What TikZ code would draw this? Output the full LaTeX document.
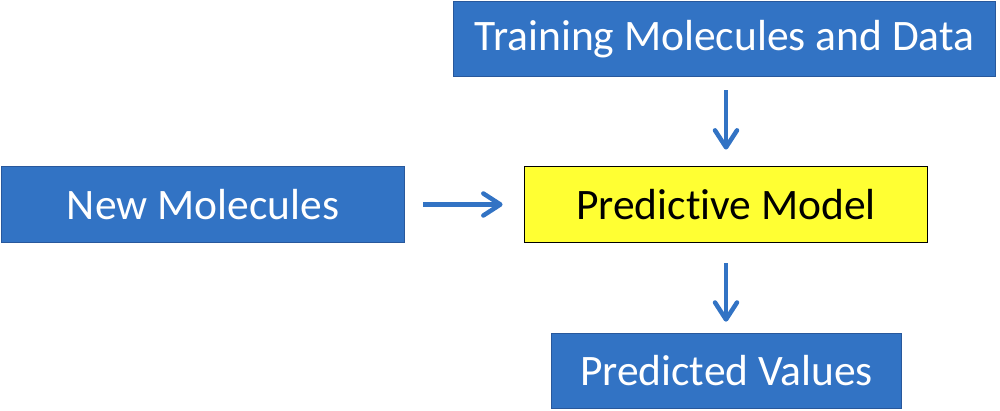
\documentclass[tikz,border=0pt]{standalone}
\usepackage{fontspec}
\setmainfont{Carlito}[Ligatures={NoCommon}]
\usetikzlibrary{arrows.meta}
\definecolor{boxblue}{RGB}{50,115,196}
\definecolor{boxedge}{RGB}{40,88,156}
\definecolor{modelyellow}{RGB}{255,255,51}
\tikzset{
  bluebox/.style={draw=boxedge,fill=boxblue,line width=1.5pt,text=white,inner sep=0pt,font=\fontsize{43.5}{48}\selectfont},
  modelbox/.style={draw=black,fill=modelyellow,line width=1.8pt,text=black,inner sep=0pt,font=\fontsize{43.5}{48}\selectfont},
  flow/.style={draw=boxblue,line width=4.5pt,-{Straight Barb[length=17pt,width=22pt,round]}}
}
\begin{document}
\begin{tikzpicture}[x=1pt,y=1pt]
	\useasboundingbox (0,0) rectangle (1000,411);
	\node[bluebox,minimum width=542,minimum height=75] (train) at (724.5,372) {Training Molecules and Data};
	\node[bluebox,minimum width=403,minimum height=76] (new) at (203,206.5) {New Molecules};
	\node[modelbox,minimum width=403,minimum height=76] (model) at (726,206.5) {Predictive Model};
	\node[bluebox,minimum width=350,minimum height=75] (pred) at (726.5,40) {Predicted Values};
	\draw[flow,shorten <=13pt,shorten >=16pt] (train.south -| model.north) -- (model.north);
	\draw[flow,shorten <=18pt,shorten >=21pt] (new.east) -- (model.west);
	\draw[flow,shorten <=20pt,shorten >=11pt] (model.south) -- (pred.north -| model.south);
\end{tikzpicture}
\end{document}
